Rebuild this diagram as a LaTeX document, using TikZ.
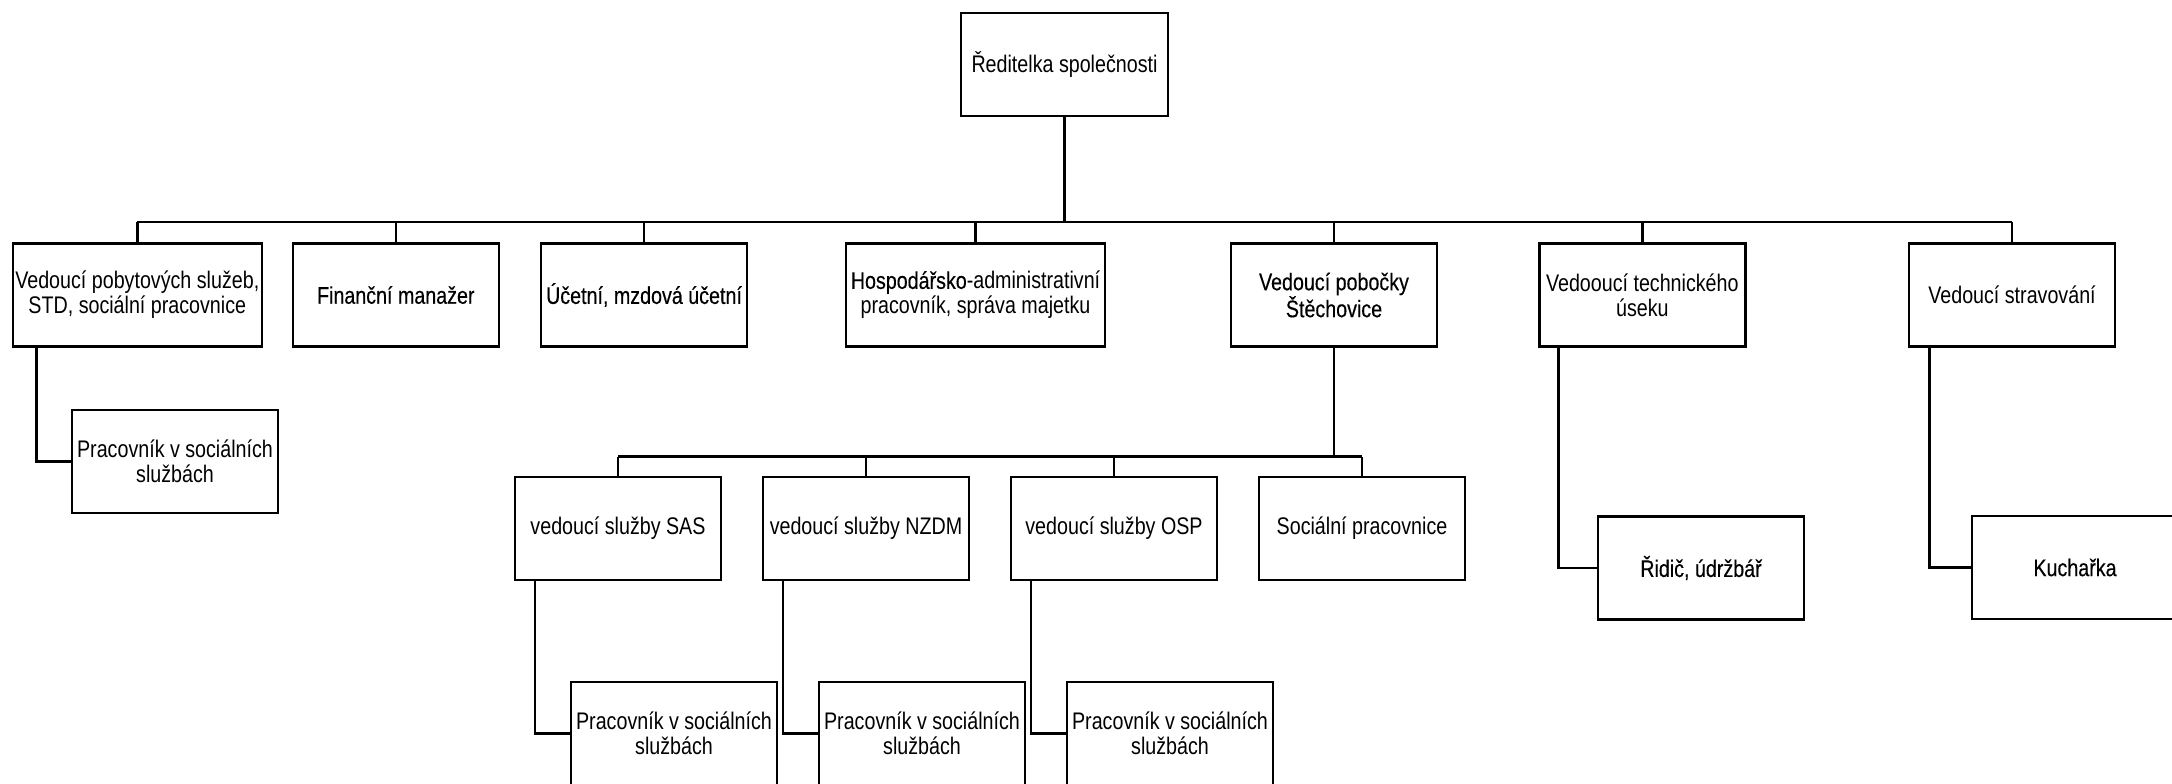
\documentclass[tikz,border=0pt]{standalone}
\usepackage{fontspec}
\newfontfamily\nrw{Liberation Sans}[FakeStretch=0.82]
\newfontfamily\nrwb{Liberation Sans}[FakeStretch=0.82,FakeBold=0.3]
\begin{document}
\begin{tikzpicture}[x=1pt,y=-1pt,
  box/.style={draw=black,line width=2.4pt,minimum height=103pt,inner sep=0pt,align=center,
    font=\nrw\fontsize{24}{25}\selectfont,fill=white},
  conn/.style={draw=black,line width=2.4pt}]
\useasboundingbox (0,0) rectangle (2172,784);
% top
\node[box,minimum width=207pt] (top) at (1064.5,64.5) {Ředitelka společnosti};
% level 1
\node[box,minimum width=249pt] (b1) at (137.3,295) {Vedoucí pobytových služeb,\\STD, sociální pracovnice};
\node[box,minimum width=206pt] (b2) at (395.8,295) {\nrwb Finanční manažer};
\node[box,minimum width=206pt] (b3) at (644,295) {\nrwb Účetní, mzdová účetní};
\node[box,minimum width=259pt] (b4) at (975.5,295) {{\nrwb Hospodářsko}-administrativní\\pracovník, správa majetku};
\node[box,minimum width=206pt] (b5) at (1334,295) {\nrwb Vedoucí pobočky\\\nrwb Štěchovice};
\node[box,minimum width=206pt] (b6) at (1642.3,295) {Vedooucí technického\\úseku};
\node[box,minimum width=206pt] (b7) at (2012,295) {Vedoucí stravování};
% children of level 1
\node[box,minimum width=206pt] (p0) at (175,461.5) {Pracovník v sociálních\\službách};
\node[box,minimum width=206pt] (rid) at (1701,568) {\nrwb Řidič, údržbář};
\node[box,minimum width=206pt] (kuch) at (2075,567.5) {\nrwb Kuchařka};
% level 2
\node[box,minimum width=206pt] (sas) at (618,528.5) {vedoucí služby SAS};
\node[box,minimum width=206pt] (nzdm) at (866,528.5) {vedoucí služby NZDM};
\node[box,minimum width=206pt] (osp) at (1114,528.5) {vedoucí služby OSP};
\node[box,minimum width=206pt] (socp) at (1362,528.5) {Sociální pracovnice};
% level 3
\node[box,minimum width=206pt] (p1) at (674,733.5) {Pracovník v sociálních\\službách};
\node[box,minimum width=206pt] (p2) at (922,733.5) {Pracovník v sociálních\\službách};
\node[box,minimum width=206pt] (p3) at (1170,733.5) {Pracovník v sociálních\\službách};
% main bus
\coordinate (bus) at (0,222);
\draw[conn] (top.south) -- (top.south |- bus);
\draw[conn] (b1.north |- bus) -- (b7.north |- bus);
\foreach \n in {b1,b2,b3,b4,b5,b6,b7}{\draw[conn] (\n.north) -- (\n.north |- bus);}
% sub bus
\coordinate (sbus) at (0,456.5);
\draw[conn] (b5.south) -- (b5.south |- sbus);
\draw[conn] (sas.north |- sbus) -- (socp.north |- sbus);
\foreach \n in {sas,nzdm,osp,socp}{\draw[conn] (\n.north) -- (\n.north |- sbus);}
% elbow connectors
\draw[conn] ([xshift=25pt]b1.south west) |- (p0.west);
\draw[conn] ([xshift=21pt]sas.south west) |- (p1.west);
\draw[conn] ([xshift=21pt]nzdm.south west) |- (p2.west);
\draw[conn] ([xshift=21pt]osp.south west) |- (p3.west);
\draw[conn] ([xshift=20.5pt]b6.south west) |- (rid.west);
\draw[conn] ([xshift=21.5pt]b7.south west) |- (kuch.west);
\end{tikzpicture}
\end{document}
